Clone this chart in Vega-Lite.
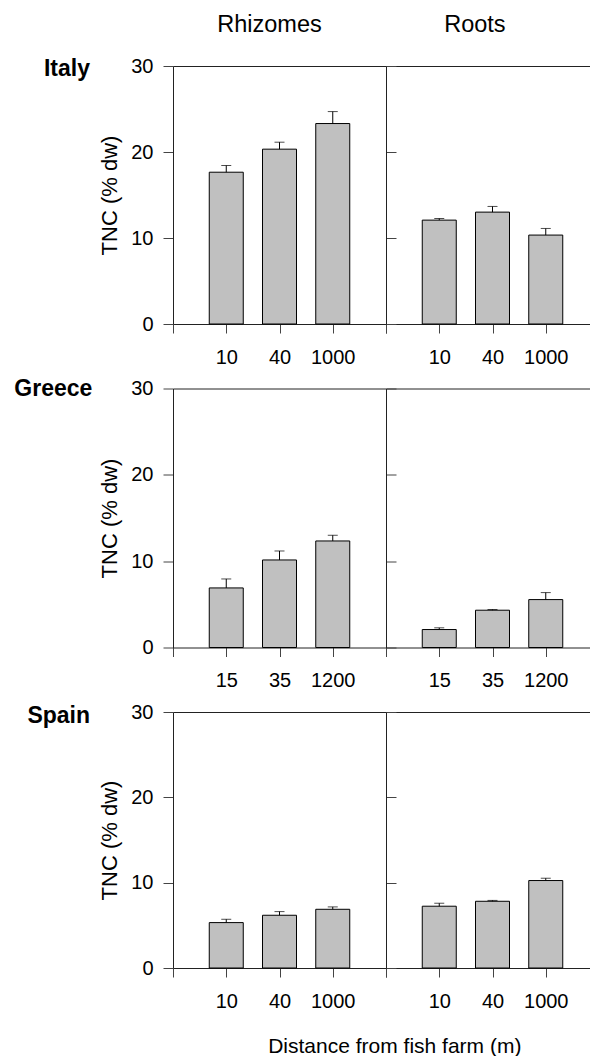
{
"$schema":"https://vega.github.io/schema/vega-lite/v6.json",
"padding":{"left":14,"top":12,"right":0,"bottom":0},
"background":"white",
"config":{"font":"Liberation Sans","view":{"stroke":null},
"axis":{"grid":false,"domainColor":"#222","tickColor":"#444","labelColor":"#000","titleColor":"#000","labelFont":"Liberation Sans","titleFont":"Liberation Sans","titleFontWeight":"normal"},
"title":{"font":"Liberation Sans","fontWeight":"bold","fontSize":23,"color":"#000"}},
"datasets":{"tnc":[
{"country":"Italy","tissue":"Rhizomes","distance":"10","value":17.65,"upper":18.43},
{"country":"Italy","tissue":"Rhizomes","distance":"40","value":20.33,"upper":21.14},
{"country":"Italy","tissue":"Rhizomes","distance":"1000","value":23.31,"upper":24.70},
{"country":"Italy","tissue":"Roots","distance":"10","value":12.08,"upper":12.27},
{"country":"Italy","tissue":"Roots","distance":"40","value":13.01,"upper":13.67},
{"country":"Italy","tissue":"Roots","distance":"1000","value":10.34,"upper":11.11},
{"country":"Greece","tissue":"Rhizomes","distance":"15","value":6.90,"upper":7.94},
{"country":"Greece","tissue":"Rhizomes","distance":"35","value":10.14,"upper":11.18},
{"country":"Greece","tissue":"Rhizomes","distance":"1200","value":12.34,"upper":13.0},
{"country":"Greece","tissue":"Roots","distance":"15","value":2.08,"upper":2.28},
{"country":"Greece","tissue":"Roots","distance":"35","value":4.32,"upper":4.40},
{"country":"Greece","tissue":"Roots","distance":"1200","value":5.55,"upper":6.36},
{"country":"Spain","tissue":"Rhizomes","distance":"10","value":5.32,"upper":5.71},
{"country":"Spain","tissue":"Rhizomes","distance":"40","value":6.18,"upper":6.61},
{"country":"Spain","tissue":"Rhizomes","distance":"1000","value":6.88,"upper":7.16},
{"country":"Spain","tissue":"Roots","distance":"10","value":7.24,"upper":7.59},
{"country":"Spain","tissue":"Roots","distance":"40","value":7.82,"upper":7.92},
{"country":"Spain","tissue":"Roots","distance":"1000","value":10.25,"upper":10.52}
]},
"bounds":"flush",
"columns":2,
"spacing":{"row":64.5,"column":0},
"concat":[
{"title":{"text":"Italy","anchor":"start","frame":"group","align":"right","dx":-83,"dy":86,"baseline":"alphabetic","offset":0},
"width":213,"height":258,"data":{"name":"tnc"},"transform":[{"filter":"datum.country == 'Italy' && datum.tissue == 'Rhizomes'"}],
"resolve":{"axis":{"x":"independent"}},
"layer":[
{"mark":{"type":"bar","fill":"#c0c0c0","stroke":"#000","strokeWidth":1,"width":34},
"encoding":{"x":{"field":"distance","type":"ordinal","scale":{"type":"point","domain":["_L","10","40","1000","_R"],"padding":0},"axis":{"orient":"bottom","title":null,"tickSize":9,"labelPadding":14,"labelAngle":0,"labelFontSize":20,"labelFlush":false,"labelOverlap":false,"labelExpr":"datum.value == '_L' || datum.value == '_R' ? '' : datum.label","domain":true,"ticks":true}},
"y":{"field":"value","type":"quantitative","title":"TNC (% dw)","scale":{"domain":[0,30],"nice":false},"axis":{"values":[0,10,20,30],"tickSize":10,"labelPadding":10,"labelFontSize":20,"labelFlush":false,"labelOverlap":false,"titlePadding":9,"titleFontSize":22,"domain":true,"ticks":true}}}},
{"mark":{"type":"rule","color":"#000","strokeWidth":1},
"encoding":{"x":{"field":"distance","type":"ordinal","scale":{"type":"point","domain":["_L","10","40","1000","_R"],"padding":0},"axis":{"orient":"top","labels":false,"ticks":false,"domain":true,"title":"Rhizomes","titleX":96,"titleY":-34.3,"titleAlign":"center","titleBaseline":"alphabetic","titleFontSize":23.5,"titleFontWeight":"normal"}},
"y":{"field":"value","type":"quantitative","title":"TNC (% dw)","scale":{"domain":[0,30],"nice":false},"axis":{"values":[0,10,20,30],"tickSize":10,"labelPadding":10,"labelFontSize":20,"labelFlush":false,"labelOverlap":false,"titlePadding":9,"titleFontSize":22,"domain":true,"ticks":true}},
"y2":{"field":"upper"}}},
{"mark":{"type":"tick","orient":"horizontal","size":10,"thickness":1,"color":"#000"},
"encoding":{"x":{"field":"distance","type":"ordinal","scale":{"type":"point","domain":["_L","10","40","1000","_R"],"padding":0},"axis":null},
"y":{"field":"upper","type":"quantitative","title":"TNC (% dw)","scale":{"domain":[0,30],"nice":false},"axis":{"values":[0,10,20,30],"tickSize":10,"labelPadding":10,"labelFontSize":20,"labelFlush":false,"labelOverlap":false,"titlePadding":9,"titleFontSize":22,"domain":true,"ticks":true}}}}
]},
{"width":204.7,"height":258,"data":{"name":"tnc"},"transform":[{"filter":"datum.country == 'Italy' && datum.tissue == 'Roots'"}],
"resolve":{"axis":{"x":"independent"}},
"layer":[
{"mark":{"type":"bar","fill":"#c0c0c0","stroke":"#000","strokeWidth":1,"width":34},
"encoding":{"x":{"field":"distance","type":"ordinal","scale":{"type":"point","domain":["_L","10","40","1000"],"padding":0.422,"align":0},"axis":{"orient":"bottom","title":null,"tickSize":9,"labelPadding":14,"labelAngle":0,"labelFontSize":20,"labelFlush":false,"labelOverlap":false,"labelExpr":"datum.value == '_L' || datum.value == '_R' ? '' : datum.label","domain":true,"ticks":true}},
"y":{"field":"value","type":"quantitative","title":null,"scale":{"domain":[0,30],"nice":false},"axis":{"values":[0,10,20,30],"tickSize":-10,"labels":false,"domain":true,"ticks":true,"title":null}}}},
{"mark":{"type":"rule","color":"#000","strokeWidth":1},
"encoding":{"x":{"field":"distance","type":"ordinal","scale":{"type":"point","domain":["_L","10","40","1000"],"padding":0.422,"align":0},"axis":{"orient":"top","labels":false,"ticks":false,"domain":true,"title":"Roots","titleX":88.4,"titleY":-34.3,"titleAlign":"center","titleBaseline":"alphabetic","titleFontSize":23.5,"titleFontWeight":"normal"}},
"y":{"field":"value","type":"quantitative","title":null,"scale":{"domain":[0,30],"nice":false},"axis":{"values":[0,10,20,30],"tickSize":-10,"labels":false,"domain":true,"ticks":true,"title":null}},
"y2":{"field":"upper"}}},
{"mark":{"type":"tick","orient":"horizontal","size":10,"thickness":1,"color":"#000"},
"encoding":{"x":{"field":"distance","type":"ordinal","scale":{"type":"point","domain":["_L","10","40","1000"],"padding":0.422,"align":0},"axis":null},
"y":{"field":"upper","type":"quantitative","title":null,"scale":{"domain":[0,30],"nice":false},"axis":{"values":[0,10,20,30],"tickSize":-10,"labels":false,"domain":true,"ticks":true,"title":null}}}}
]},
{"title":{"text":"Greece","anchor":"start","frame":"group","align":"right","dx":-80.7,"dy":40,"baseline":"alphabetic","offset":0},
"width":213,"height":259,"data":{"name":"tnc"},"transform":[{"filter":"datum.country == 'Greece' && datum.tissue == 'Rhizomes'"}],
"resolve":{"axis":{"x":"independent"}},
"layer":[
{"mark":{"type":"bar","fill":"#c0c0c0","stroke":"#000","strokeWidth":1,"width":34},
"encoding":{"x":{"field":"distance","type":"ordinal","scale":{"type":"point","domain":["_L","15","35","1200","_R"],"padding":0},"axis":{"orient":"bottom","title":null,"tickSize":9,"labelPadding":14,"labelAngle":0,"labelFontSize":20,"labelFlush":false,"labelOverlap":false,"labelExpr":"datum.value == '_L' || datum.value == '_R' ? '' : datum.label","domain":true,"ticks":true}},
"y":{"field":"value","type":"quantitative","title":"TNC (% dw)","scale":{"domain":[0,30],"nice":false},"axis":{"values":[0,10,20,30],"tickSize":10,"labelPadding":10,"labelFontSize":20,"labelFlush":false,"labelOverlap":false,"titlePadding":9,"titleFontSize":22,"domain":true,"ticks":true}}}},
{"mark":{"type":"rule","color":"#000","strokeWidth":1},
"encoding":{"x":{"field":"distance","type":"ordinal","scale":{"type":"point","domain":["_L","15","35","1200","_R"],"padding":0},"axis":{"orient":"top","labels":false,"ticks":false,"domain":true,"title":null}},
"y":{"field":"value","type":"quantitative","title":"TNC (% dw)","scale":{"domain":[0,30],"nice":false},"axis":{"values":[0,10,20,30],"tickSize":10,"labelPadding":10,"labelFontSize":20,"labelFlush":false,"labelOverlap":false,"titlePadding":9,"titleFontSize":22,"domain":true,"ticks":true}},
"y2":{"field":"upper"}}},
{"mark":{"type":"tick","orient":"horizontal","size":10,"thickness":1,"color":"#000"},
"encoding":{"x":{"field":"distance","type":"ordinal","scale":{"type":"point","domain":["_L","15","35","1200","_R"],"padding":0},"axis":null},
"y":{"field":"upper","type":"quantitative","title":"TNC (% dw)","scale":{"domain":[0,30],"nice":false},"axis":{"values":[0,10,20,30],"tickSize":10,"labelPadding":10,"labelFontSize":20,"labelFlush":false,"labelOverlap":false,"titlePadding":9,"titleFontSize":22,"domain":true,"ticks":true}}}}
]},
{"width":204.7,"height":259,"data":{"name":"tnc"},"transform":[{"filter":"datum.country == 'Greece' && datum.tissue == 'Roots'"}],
"resolve":{"axis":{"x":"independent"}},
"layer":[
{"mark":{"type":"bar","fill":"#c0c0c0","stroke":"#000","strokeWidth":1,"width":34},
"encoding":{"x":{"field":"distance","type":"ordinal","scale":{"type":"point","domain":["_L","15","35","1200"],"padding":0.422,"align":0},"axis":{"orient":"bottom","title":null,"tickSize":9,"labelPadding":14,"labelAngle":0,"labelFontSize":20,"labelFlush":false,"labelOverlap":false,"labelExpr":"datum.value == '_L' || datum.value == '_R' ? '' : datum.label","domain":true,"ticks":true}},
"y":{"field":"value","type":"quantitative","title":null,"scale":{"domain":[0,30],"nice":false},"axis":{"values":[0,10,20,30],"tickSize":-10,"labels":false,"domain":true,"ticks":true,"title":null}}}},
{"mark":{"type":"rule","color":"#000","strokeWidth":1},
"encoding":{"x":{"field":"distance","type":"ordinal","scale":{"type":"point","domain":["_L","15","35","1200"],"padding":0.422,"align":0},"axis":{"orient":"top","labels":false,"ticks":false,"domain":true,"title":null}},
"y":{"field":"value","type":"quantitative","title":null,"scale":{"domain":[0,30],"nice":false},"axis":{"values":[0,10,20,30],"tickSize":-10,"labels":false,"domain":true,"ticks":true,"title":null}},
"y2":{"field":"upper"}}},
{"mark":{"type":"tick","orient":"horizontal","size":10,"thickness":1,"color":"#000"},
"encoding":{"x":{"field":"distance","type":"ordinal","scale":{"type":"point","domain":["_L","15","35","1200"],"padding":0.422,"align":0},"axis":null},
"y":{"field":"upper","type":"quantitative","title":null,"scale":{"domain":[0,30],"nice":false},"axis":{"values":[0,10,20,30],"tickSize":-10,"labels":false,"domain":true,"ticks":true,"title":null}}}}
]},
{"title":{"text":"Spain","anchor":"start","frame":"group","align":"right","dx":-83,"dy":44,"baseline":"alphabetic","offset":0},
"width":213,"height":256,"data":{"name":"tnc"},"transform":[{"filter":"datum.country == 'Spain' && datum.tissue == 'Rhizomes'"}],
"resolve":{"axis":{"x":"independent"}},
"layer":[
{"mark":{"type":"bar","fill":"#c0c0c0","stroke":"#000","strokeWidth":1,"width":34},
"encoding":{"x":{"field":"distance","type":"ordinal","scale":{"type":"point","domain":["_L","10","40","1000","_R"],"padding":0},"axis":{"orient":"bottom","title":"Distance from fish farm (m)","titleX":221.3,"titleY":84,"titleAlign":"center","titleBaseline":"alphabetic","titleFontSize":21,"tickSize":9,"labelPadding":14,"labelAngle":0,"labelFontSize":20,"labelFlush":false,"labelOverlap":false,"labelExpr":"datum.value == '_L' || datum.value == '_R' ? '' : datum.label","domain":true,"ticks":true}},
"y":{"field":"value","type":"quantitative","title":"TNC (% dw)","scale":{"domain":[0,30],"nice":false},"axis":{"values":[0,10,20,30],"tickSize":10,"labelPadding":10,"labelFontSize":20,"labelFlush":false,"labelOverlap":false,"titlePadding":9,"titleFontSize":22,"domain":true,"ticks":true}}}},
{"mark":{"type":"rule","color":"#000","strokeWidth":1},
"encoding":{"x":{"field":"distance","type":"ordinal","scale":{"type":"point","domain":["_L","10","40","1000","_R"],"padding":0},"axis":{"orient":"top","labels":false,"ticks":false,"domain":true,"title":null}},
"y":{"field":"value","type":"quantitative","title":"TNC (% dw)","scale":{"domain":[0,30],"nice":false},"axis":{"values":[0,10,20,30],"tickSize":10,"labelPadding":10,"labelFontSize":20,"labelFlush":false,"labelOverlap":false,"titlePadding":9,"titleFontSize":22,"domain":true,"ticks":true}},
"y2":{"field":"upper"}}},
{"mark":{"type":"tick","orient":"horizontal","size":10,"thickness":1,"color":"#000"},
"encoding":{"x":{"field":"distance","type":"ordinal","scale":{"type":"point","domain":["_L","10","40","1000","_R"],"padding":0},"axis":null},
"y":{"field":"upper","type":"quantitative","title":"TNC (% dw)","scale":{"domain":[0,30],"nice":false},"axis":{"values":[0,10,20,30],"tickSize":10,"labelPadding":10,"labelFontSize":20,"labelFlush":false,"labelOverlap":false,"titlePadding":9,"titleFontSize":22,"domain":true,"ticks":true}}}}
]},
{"width":204.7,"height":256,"data":{"name":"tnc"},"transform":[{"filter":"datum.country == 'Spain' && datum.tissue == 'Roots'"}],
"resolve":{"axis":{"x":"independent"}},
"layer":[
{"mark":{"type":"bar","fill":"#c0c0c0","stroke":"#000","strokeWidth":1,"width":34},
"encoding":{"x":{"field":"distance","type":"ordinal","scale":{"type":"point","domain":["_L","10","40","1000"],"padding":0.422,"align":0},"axis":{"orient":"bottom","title":null,"tickSize":9,"labelPadding":14,"labelAngle":0,"labelFontSize":20,"labelFlush":false,"labelOverlap":false,"labelExpr":"datum.value == '_L' || datum.value == '_R' ? '' : datum.label","domain":true,"ticks":true}},
"y":{"field":"value","type":"quantitative","title":null,"scale":{"domain":[0,30],"nice":false},"axis":{"values":[0,10,20,30],"tickSize":-10,"labels":false,"domain":true,"ticks":true,"title":null}}}},
{"mark":{"type":"rule","color":"#000","strokeWidth":1},
"encoding":{"x":{"field":"distance","type":"ordinal","scale":{"type":"point","domain":["_L","10","40","1000"],"padding":0.422,"align":0},"axis":{"orient":"top","labels":false,"ticks":false,"domain":true,"title":null}},
"y":{"field":"value","type":"quantitative","title":null,"scale":{"domain":[0,30],"nice":false},"axis":{"values":[0,10,20,30],"tickSize":-10,"labels":false,"domain":true,"ticks":true,"title":null}},
"y2":{"field":"upper"}}},
{"mark":{"type":"tick","orient":"horizontal","size":10,"thickness":1,"color":"#000"},
"encoding":{"x":{"field":"distance","type":"ordinal","scale":{"type":"point","domain":["_L","10","40","1000"],"padding":0.422,"align":0},"axis":null},
"y":{"field":"upper","type":"quantitative","title":null,"scale":{"domain":[0,30],"nice":false},"axis":{"values":[0,10,20,30],"tickSize":-10,"labels":false,"domain":true,"ticks":true,"title":null}}}}
]}
]
}
